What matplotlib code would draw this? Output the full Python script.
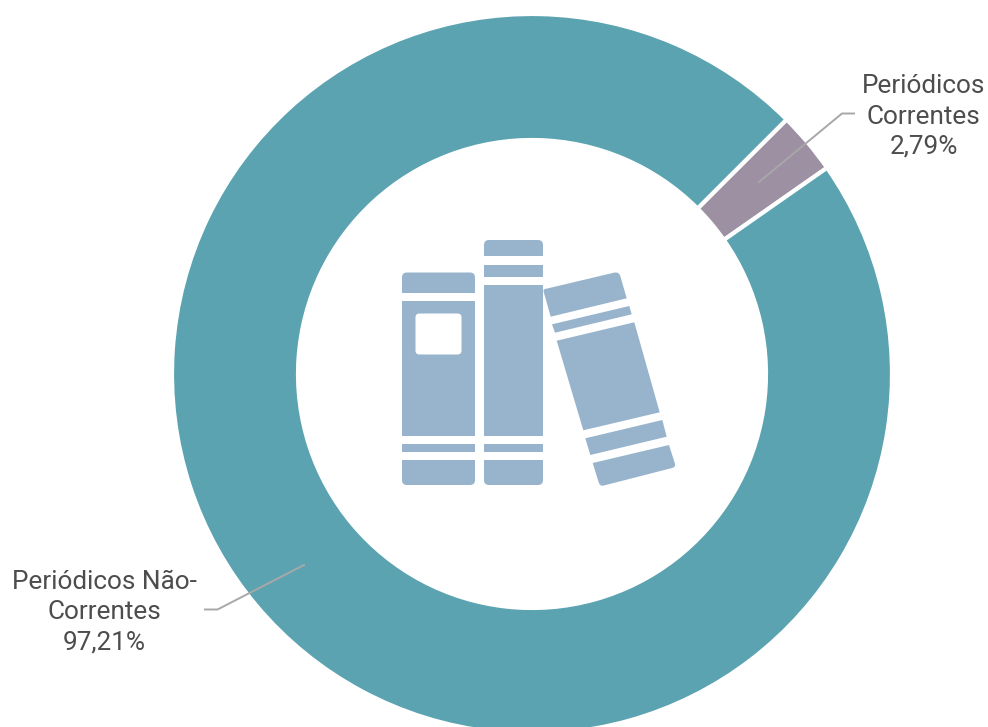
import matplotlib.pyplot as plt
from matplotlib.patches import PathPatch
from matplotlib.path import Path

W, H = 988, 727

labels = ["Periódicos\nCorrentes\n2,79%", "Periódicos Não-\nCorrentes\n97,21%"]
values = [2.79, 97.21]
colors = ["#9C90A2", "#5BA3B0"]

ICON = "#98B4CC"
TEXT = "#4D4D4D"
LEADER = "#A8A8A8"


def flip(points):
    # picture coordinates have y going down
    return [(x, H - y) for x, y in points]


def rounded_shape(points, radii):
    """Closed polygon with a rounded corner wherever the radius is above 0."""
    verts, codes = [], []
    n = len(points)
    for i in range(n):
        p = points[i]
        r = radii[i]
        a = points[i - 1]
        b = points[(i + 1) % n]
        if r == 0:
            verts.append(p)
            codes.append(Path.LINETO)
            continue
        la = ((a[0] - p[0]) ** 2 + (a[1] - p[1]) ** 2) ** 0.5
        lb = ((b[0] - p[0]) ** 2 + (b[1] - p[1]) ** 2) ** 0.5
        start = (p[0] + (a[0] - p[0]) * r / la, p[1] + (a[1] - p[1]) * r / la)
        end = (p[0] + (b[0] - p[0]) * r / lb, p[1] + (b[1] - p[1]) * r / lb)
        verts += [start, p, end]
        codes += [Path.LINETO, Path.CURVE3, Path.CURVE3]
    codes[0] = Path.MOVETO
    verts.append(verts[0])
    codes.append(Path.CLOSEPOLY)
    return Path(verts, codes)


def add_shape(ax, points, radii=None, color=ICON):
    if radii is None:
        radii = [0] * len(points)
    patch = PathPatch(rounded_shape(flip(points), radii), facecolor=color,
                      edgecolor="none", zorder=4)
    ax.add_patch(patch)


def box(x0, y0, x1, y1):
    return [(x0, y0), (x1, y0), (x1, y1), (x0, y1)]


def main():
    fig = plt.figure(figsize=(W / 100, H / 100), dpi=100)
    ax = fig.add_axes([0, 0, 1, 1])

    ax.pie(
        values,
        colors=colors,
        startangle=34.95,
        center=(532, H - 374),
        radius=360,
        frame=True,
        wedgeprops={"width": 126, "edgecolor": "white", "linewidth": 3},
    )
    ax.set_xlim(0, W)
    ax.set_ylim(0, H)
    ax.set_aspect("equal")
    ax.axis("off")

    # leader lines
    ax.plot(*zip(*flip([(759, 182), (842, 113.5), (854, 113.5)])), color=LEADER, lw=1.4, zorder=3)
    ax.plot(*zip(*flip([(304, 565), (217.5, 609.5), (205, 609.5)])), color=LEADER, lw=1.4, zorder=3)

    font = dict(family="Roboto", fontsize=18.8, color=TEXT,
                ha="center", va="center", linespacing=1.34)
    ax.text(923.5, H - 116.5, labels[0], **font)
    ax.text(104.5, H - 612, labels[1], **font)

    # book icon, left book
    add_shape(ax, box(402, 272.5, 475, 293), [5, 5, 0, 0])
    add_shape(ax, box(402, 301, 475, 436))
    add_shape(ax, box(402, 444, 475, 452))
    add_shape(ax, box(402, 460, 475, 485), [0, 0, 5, 5])
    add_shape(ax, box(415.5, 313.5, 461.5, 354.5), [4, 4, 4, 4], color="white")

    # middle book
    add_shape(ax, box(484, 240, 543, 256), [5, 5, 0, 0])
    add_shape(ax, box(484, 264.5, 543, 276.5))
    add_shape(ax, box(484, 285, 543, 436))
    add_shape(ax, box(484, 444, 543, 452))
    add_shape(ax, box(484, 460, 543, 485), [0, 0, 5, 5])

    # leaning book
    add_shape(ax, [(543, 289.5), (619, 271.5), (626.7, 298.3), (550.7, 316.7)], [2, 5, 0, 0])
    add_shape(ax, [(552, 324.3), (629.3, 306), (631.7, 314.3), (555, 332.7)])
    add_shape(ax, [(556.7, 340.7), (634.3, 322.3), (659.7, 412.3), (583.3, 430.3)])
    add_shape(ax, [(585.3, 438.3), (662.3, 420), (666.7, 436.7), (590.3, 455)])
    add_shape(ax, [(592.7, 463), (669, 445), (676, 467), (600, 486.5)], [0, 0, 4, 4])

    fig.savefig("out.png", dpi=100, facecolor="white")
    plt.close(fig)


if __name__ == "__main__":
    main()
